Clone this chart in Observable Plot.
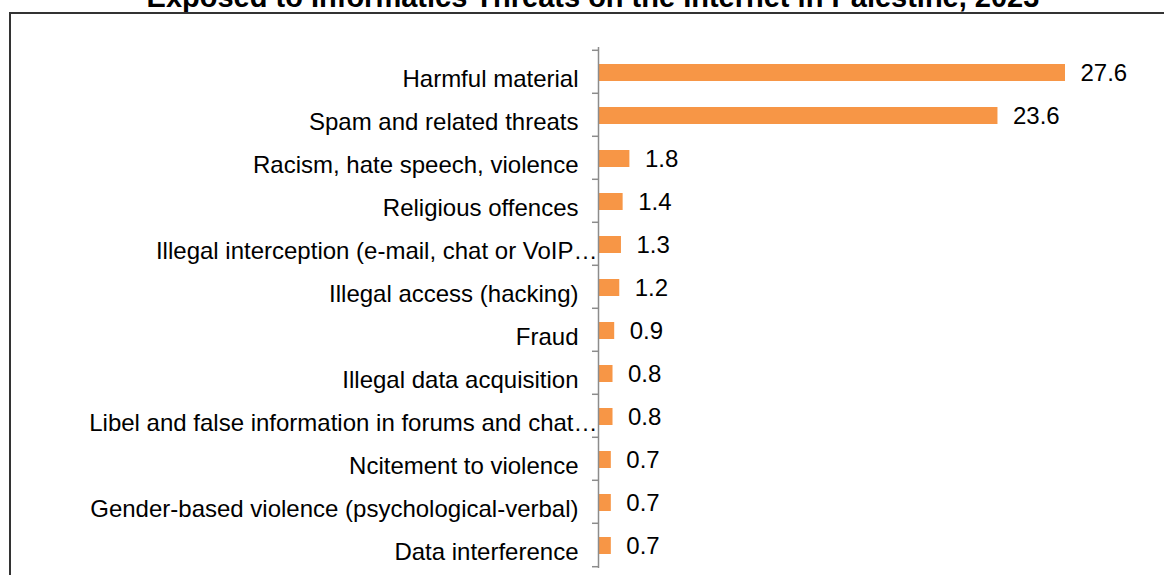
<!DOCTYPE html>
<html>
<head>
<meta charset="utf-8">
<script src="https://cdn.jsdelivr.net/npm/d3@7"></script>
<script src="https://cdn.jsdelivr.net/npm/@observablehq/plot@0.6"></script>
<style>
  body { margin: 0; background: #fff; }
  #wrap { position: relative; width: 1164px; height: 575px; overflow: hidden; background: #fff; }
  #title { position: absolute; left: 11px; width: 1164px; top: -17px; text-align: center;
           font: bold 29px "Liberation Sans", Arial, sans-serif; line-height: 29px; color: #000; white-space: nowrap; }
  #frame { position: absolute; left: 9px; top: 12px; width: 1200px; height: 700px; border: 2px solid #333; }
  #chart { position: absolute; left: 0; top: 0; }
</style>
</head>
<body>
<div id="wrap">
  <div id="title">Exposed to Informatics Threats on the Internet in Palestine, 2023</div>
  <div id="frame"></div>
  <div id="chart"></div>
</div>
<script>
const categories = [
  "Harmful material",
  "Spam and related threats",
  "Racism, hate speech, violence",
  "Religious offences",
  "Illegal interception (e-mail, chat or VoIP…",
  "Illegal access (hacking)",
  "Fraud",
  "Illegal data acquisition",
  "Libel and false information in forums and chat…",
  "Ncitement to violence",
  "Gender-based violence (psychological-verbal)",
  "Data interference"
];
const values = [27.6, 23.6, 1.8, 1.4, 1.3, 1.2, 0.9, 0.8, 0.8, 0.7, 0.7, 0.7];

const data = categories.map((c, i) => ({category: c, value: values[i]}));
const truncated = categories.filter(c => c.endsWith("…"));
const full = categories.filter(c => !c.endsWith("…"));

const W = 1164, H = 575, mTop = 47, mBottom = 7;
const step = (H - mTop - mBottom) / categories.length;
const barInset = 13;
const axisColor = "#8c8c8c";
const font = "'Liberation Sans', Arial, sans-serif";

const chart = Plot.plot({
  width: W,
  height: H,
  marginLeft: 599,
  marginRight: 99,
  marginTop: mTop,
  marginBottom: mBottom,
  style: {fontFamily: font, fontSize: "24px", background: "transparent", color: "#000"},
  x: {domain: [0, 27.6], axis: null},
  y: {domain: categories, padding: 0, axis: null, label: null},
  marks: [
    Plot.barX(data, {x: "value", y: "category", fill: "#F79646", insetTop: barInset, insetBottom: barInset, dy: 1}),
    Plot.text(data, {x: "value", y: "category", text: d => d.value.toFixed(1), textAnchor: "start", dx: 15, dy: 1, fontSize: 24, fill: "#000"}),
    Plot.ruleX([0], {stroke: axisColor, strokeWidth: 1.5, dx: -1}),
    Plot.axisY(full, {tickSize: 0, tickPadding: 21, fontSize: 24, fill: "#000", dy: 7, label: null}),
    Plot.axisY(truncated, {tickSize: 0, tickPadding: 2, fontSize: 24, fill: "#000", dy: 7, label: null}),
    Plot.axisY(categories, {tickSize: 7, tickFormat: () => "", dy: -step / 2, stroke: axisColor, strokeWidth: 1.5, label: null}),
    Plot.axisY(categories.slice(-1), {tickSize: 7, tickFormat: () => "", dy: step / 2, stroke: axisColor, strokeWidth: 1.5, label: null})
  ]
});
document.getElementById("chart").appendChild(chart);
</script>
</body>
</html>
